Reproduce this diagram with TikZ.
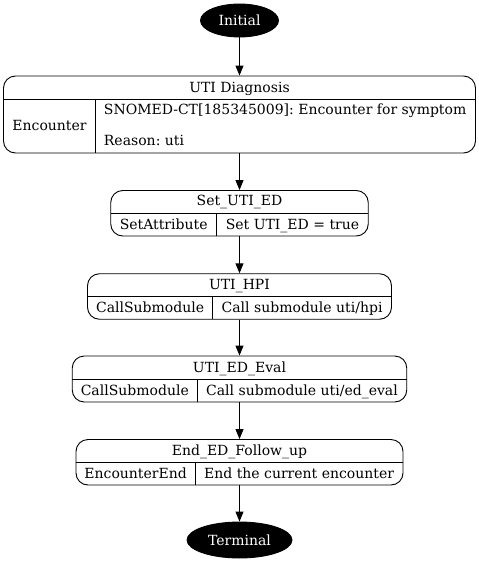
\documentclass[tikz,border=0pt]{standalone}
\usepackage{fontspec}
\setmainfont{DejaVu Serif}
\usetikzlibrary{arrows.meta,shapes.geometric}

\begin{document}
\frenchspacing
\begin{tikzpicture}[x=1pt, y=-1pt, line width=0.9pt,
    font=\fontsize{14}{17}\selectfont,
    terminus/.style={ellipse, fill=black, draw=black, text=white, inner sep=0pt},
    statebox/.style={rectangle, draw=black, rounded corners=12pt, inner sep=0pt},
    label/.style={inner sep=0pt, text height=10pt, text depth=1pt},
    flow/.style={-{Triangle[length=10pt,width=8pt]}}]
    \useasboundingbox (0,0) rectangle (479,562);

    \node[terminus, minimum width=78, minimum height=33] (initial) at (239.5,20.5) {Initial};

    \node[statebox, minimum width=472, minimum height=77] (diag) at (239.5,114.5) {};
    \draw (3.5,99) -- (475.5,99);
    \draw (95.5,99) -- (95.5,153);
    \node[label] (diagname) at (239.5,87.5) {UTI Diagnosis};
    \node[label] (diagtype) at (49.5,126) {Encounter};
    \node[label, anchor=west] (diagcode) at (103.5,110) {SNOMED-CT[185345009]: Encounter for symptom};
    \node[label, anchor=west] (diagwhy) at (103.5,141) {Reason: uti};

    \node[statebox, minimum width=257.5, minimum height=45.5] (setuti) at (239.5,213.25) {};
    \draw (110.75,213.3) -- (368.25,213.3);
    \draw (216.7,213.3) -- (216.7,236);
    \node[label] (setutiname) at (239.5,201) {Set\_UTI\_ED};
    \node[label] (setutitype) at (163.7,224.5) {SetAttribute};
    \node[label] (setutiact) at (292.5,224.5) {Set UTI\_ED = true};

    \node[statebox, minimum width=304, minimum height=45.5] (hpi) at (239.5,296.5) {};
    \draw (87.5,296.5) -- (391.5,296.5);
    \draw (212.7,296.5) -- (212.7,319.25);
    \node[label] (hpiname) at (239.5,284.5) {UTI\_HPI};
    \node[label] (hpitype) at (150.1,308) {CallSubmodule};
    \node[label] (hpiact) at (302.1,308) {Call submodule uti/hpi};

    \node[statebox, minimum width=334.5, minimum height=46] (edeval) at (239.5,379) {};
    \draw (72.25,379.5) -- (406.75,379.5);
    \draw (197.3,379.5) -- (197.3,402);
    \node[label] (edevalname) at (239.5,367.5) {UTI\_ED\_Eval};
    \node[label] (edevaltype) at (134.8,391) {CallSubmodule};
    \node[label] (edevalact) at (302,391) {Call submodule uti/ed\_eval};

    \node[statebox, minimum width=327, minimum height=45.5] (edend) at (239.5,462.25) {};
    \draw (76,462.3) -- (403,462.3);
    \draw (195.3,462.3) -- (195.3,485);
    \node[label] (edendname) at (239.5,450.5) {End\_ED\_Follow\_up};
    \node[label] (edendtype) at (135.6,474) {EncounterEnd};
    \node[label] (edendact) at (299.1,474) {End the current encounter};

    \node[terminus, minimum width=105, minimum height=36] (terminal) at (239.5,540) {Terminal};

    \draw[flow] (initial) -- (diag);
    \draw[flow] (diag) -- (setuti);
    \draw[flow] (setuti) -- (hpi);
    \draw[flow] (hpi) -- (edeval);
    \draw[flow] (edeval) -- (edend);
    \draw[flow] (edend) -- (terminal);
\end{tikzpicture}
\end{document}
